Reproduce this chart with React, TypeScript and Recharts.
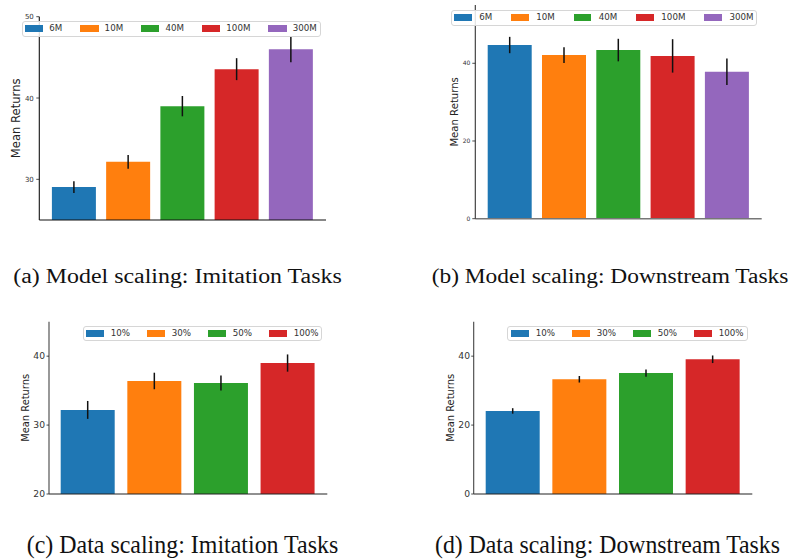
import React from 'react';
import { BarChart, Bar, XAxis, YAxis, Legend, Cell, ErrorBar } from 'recharts';

const modelCats = ['6M', '10M', '40M', '100M', '300M'];
const modelImitMean = [29.05, 32.15, 39.0, 43.55, 46.0];
const modelImitErr = [0.72, 0.85, 1.25, 1.35, 1.6];
const modelDownMean = [44.7, 42.1, 43.4, 41.9, 37.8];
const modelDownErr = [2.1, 2.0, 2.9, 4.3, 3.4];

const dataCats = ['10%', '30%', '50%', '100%'];
const dataImitMean = [32.2, 36.4, 36.1, 39.0];
const dataImitErr = [1.3, 1.2, 1.1, 1.25];
const dataDownMean = [24.1, 33.3, 35.1, 39.1];
const dataDownErr = [0.8, 0.95, 1.05, 1.1];

const ticksA = [30, 40, 50];
const ticksB = [0, 20, 40];
const ticksC = [20, 30, 40];
const ticksD = [0, 20, 40];

const captions = [
  '(a) Model scaling: Imitation Tasks',
  '(b) Model scaling: Downstream Tasks',
  '(c) Data scaling: Imitation Tasks',
  '(d) Data scaling: Downstream Tasks',
];

const COLORS = ['#1f77b4', '#ff7f0e', '#2ca02c', '#d62728', '#9467bd'];
const FONT = '"DejaVu Sans", sans-serif';

type Cfg = {
  left: number; top: number; width: number; height: number;
  margin: { top: number; right: number; bottom: number; left: number };
  domain: [number, number]; ticks: number[];
  tickFont: number; tickSize: number; tickMargin: number;
  padX: [number, number]; barSize: number;
  legend: { left: number; top: number; width: number; height: number; padL: number; sw: number; tg: number; cg: number };
  ylabel: { dist: number; font: number };
  yAxisColor: string; xAxisColor: string; xAxisWidth: number;
};

const cfgA: Cfg = {
  left: 0, top: 0, width: 340, height: 240,
  margin: { top: 16.7, right: 14, bottom: 12, left: 9.3 },
  domain: [25, 50], ticks: ticksA, tickFont: 7, tickSize: 3, tickMargin: 2.5,
  padX: [7.6, 7.9], barSize: 44,
  legend: { left: 21.7, top: 20.7, width: 299.3, height: 16, padL: 3.3, sw: 18.3, tg: 6, cg: 18 },
  ylabel: { dist: 23.3, font: 11.6 },
  yAxisColor: '#111', xAxisColor: '#111', xAxisWidth: 1.2,
};
const cfgB: Cfg = {
  left: 400, top: 0, width: 397, height: 240,
  margin: { top: 5, right: 35.3, bottom: 13.3, left: 45.3 },
  domain: [0, 55], ticks: ticksB, tickFont: 6, tickSize: 3, tickMargin: 2,
  padX: [7.4, 7.5], barSize: 44,
  legend: { left: 50.7, top: 10, width: 306.6, height: 15.7, padL: 3.3, sw: 17.7, tg: 7.6, cg: 18.7 },
  ylabel: { dist: 21, font: 10.1 },
  yAxisColor: '#333', xAxisColor: '#777', xAxisWidth: 1.6,
};
const cfgC: Cfg = {
  left: 0, top: 300, width: 340, height: 210,
  margin: { top: 21.7, right: 12.7, bottom: 8, left: 19 },
  domain: [20, 45], ticks: ticksC, tickFont: 9.2, tickSize: 2.5, tickMargin: 1.5,
  padX: [5.7, 6.1], barSize: 54,
  legend: { left: 82.7, top: 25.7, width: 239.6, height: 15.3, padL: 3.3, sw: 18, tg: 6.7, cg: 17 },
  ylabel: { dist: 23.3, font: 9.9 },
  yAxisColor: '#444', xAxisColor: '#222', xAxisWidth: 1.2,
};
const cfgD: Cfg = {
  left: 400, top: 300, width: 397, height: 210,
  margin: { top: 21.7, right: 44.7, bottom: 8, left: 43.7 },
  domain: [0, 50], ticks: ticksD, tickFont: 9.2, tickSize: 2.5, tickMargin: 1.2,
  padX: [6, 6], barSize: 54,
  legend: { left: 107.3, top: 25.7, width: 240.4, height: 15.3, padL: 3.7, sw: 18, tg: 6.7, cg: 17 },
  ylabel: { dist: 23, font: 9.9 },
  yAxisColor: '#444', xAxisColor: '#222', xAxisWidth: 1.2,
};

function LegendBox({ cfg, cats }: { cfg: Cfg; cats: string[] }) {
  const L = cfg.legend;
  return (
    <div
      style={{
        width: L.width, height: L.height, boxSizing: 'border-box',
        border: '1px solid #d6d6d6', borderRadius: 3, background: 'rgba(255,255,255,0.85)',
        display: 'flex', alignItems: 'center', paddingLeft: L.padL - 1,
        fontFamily: FONT,
      }}
    >
      {cats.map((c, i) => (
        <div key={c} style={{ display: 'flex', alignItems: 'center', marginRight: i < cats.length - 1 ? L.cg : 0 }}>
          <div style={{ width: L.sw, height: 6.7, background: COLORS[i] }} />
          <span style={{ marginLeft: L.tg, fontSize: 8.7, color: '#333', lineHeight: 1, whiteSpace: 'nowrap' }}>{c}</span>
        </div>
      ))}
    </div>
  );
}

function Panel({ cfg, cats, means, errs }: { cfg: Cfg; cats: string[]; means: number[]; errs: number[] }) {
  const data = cats.map((c, i) => ({ name: c, mean: means[i], err: errs[i] }));
  const plotH = cfg.height - cfg.margin.top - cfg.margin.bottom - 8;
  const renderYLabel = (props: any) => {
    const vb = props && props.viewBox;
    const right = vb && typeof vb.x === 'number' ? vb.x + vb.width : cfg.margin.left + 30;
    const cy = vb && typeof vb.y === 'number' ? vb.y + vb.height / 2 : cfg.margin.top + plotH / 2;
    const cx = right - cfg.ylabel.dist;
    return (
      <text
        x={cx} y={cy} transform={`rotate(-90 ${cx} ${cy})`}
        textAnchor="middle" dominantBaseline="central"
        fontSize={cfg.ylabel.font} fontFamily={FONT} fill="#222"
      >
        Mean Returns
      </text>
    );
  };
  return (
    <div style={{ position: 'absolute', left: cfg.left, top: cfg.top }}>
      <BarChart width={cfg.width} height={cfg.height} data={data} margin={cfg.margin}>
        <XAxis
          dataKey="name" tick={false} tickLine={false} height={8}
          axisLine={{ stroke: cfg.xAxisColor, strokeWidth: cfg.xAxisWidth }}
          padding={{ left: cfg.padX[0], right: cfg.padX[1] }}
        />
        <YAxis
          width={30} domain={cfg.domain} ticks={cfg.ticks} allowDataOverflow
          tick={{ fontSize: cfg.tickFont, fill: '#333', fontFamily: FONT }}
          tickSize={cfg.tickSize} tickMargin={cfg.tickMargin}
          axisLine={{ stroke: cfg.yAxisColor, strokeWidth: 1.1 }}
          tickLine={{ stroke: '#222', strokeWidth: 0.8 }}
          label={{ content: renderYLabel }}
        />
        <Legend
          layout="horizontal" verticalAlign="middle" align="center"
          wrapperStyle={{ position: 'absolute', left: cfg.legend.left, top: cfg.legend.top, width: cfg.legend.width, height: cfg.legend.height, margin: 0 }}
          content={() => <LegendBox cfg={cfg} cats={cats} />}
        />
        <Bar dataKey="mean" barSize={cfg.barSize} isAnimationActive={false}>
          {data.map((d, i) => (
            <Cell key={d.name} fill={COLORS[i]} />
          ))}
          <ErrorBar dataKey="err" direction="y" width={0} stroke="#111" strokeWidth={1.5} isAnimationActive={false} />
        </Bar>
      </BarChart>
    </div>
  );
}

const captionPos = [
  { x: 13.3, y: 283.3, len: 328.4, size: 20 },
  { x: 431.7, y: 283.3, len: 356.6, size: 20 },
  { x: 26.7, y: 552.5, len: 311.6, size: 25 },
  { x: 435, y: 552.5, len: 345, size: 25 },
];

export default function App() {
  return (
    <div style={{ position: 'absolute', left: 0, top: 0, width: 797, height: 559, background: '#fff', overflow: 'hidden' }}>
      <Panel cfg={cfgA} cats={modelCats} means={modelImitMean} errs={modelImitErr} />
      <Panel cfg={cfgB} cats={modelCats} means={modelDownMean} errs={modelDownErr} />
      <Panel cfg={cfgC} cats={dataCats} means={dataImitMean} errs={dataImitErr} />
      <Panel cfg={cfgD} cats={dataCats} means={dataDownMean} errs={dataDownErr} />
      <svg width={797} height={559} style={{ position: 'absolute', left: 0, top: 0, pointerEvents: 'none' }}>
        {captions.map((t, i) => (
          <text
            key={t} x={captionPos[i].x} y={captionPos[i].y}
            textLength={captionPos[i].len} lengthAdjust="spacingAndGlyphs"
            fontSize={captionPos[i].size} fontFamily='"Liberation Serif", "Times New Roman", serif' fill="#111"
          >
            {t}
          </text>
        ))}
      </svg>
    </div>
  );
}
